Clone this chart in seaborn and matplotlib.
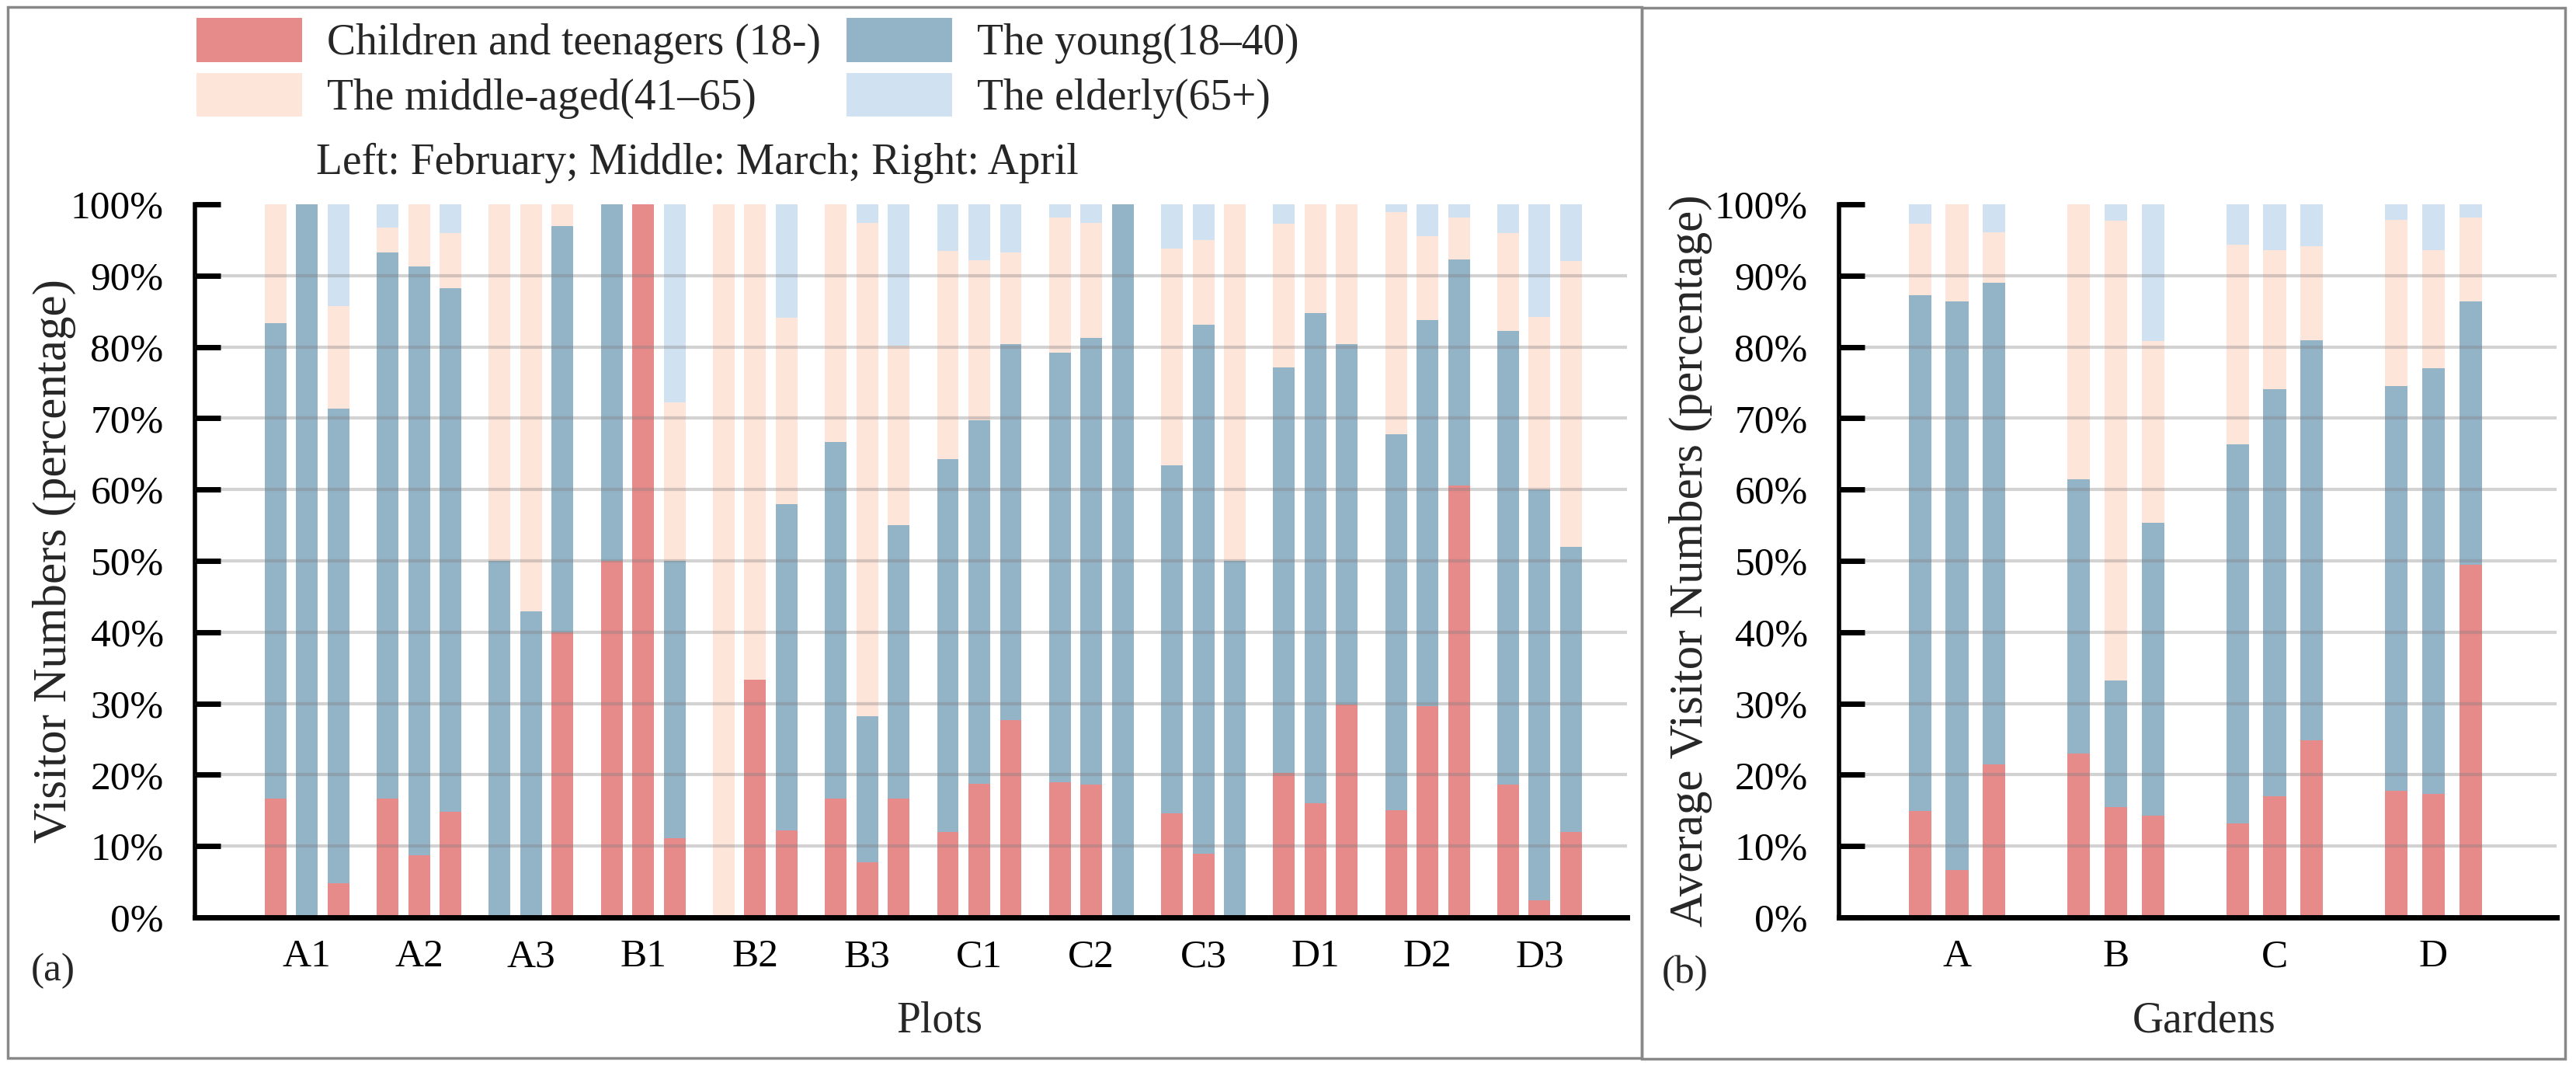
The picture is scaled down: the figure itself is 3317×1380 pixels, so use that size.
import pandas as pd
import matplotlib
matplotlib.use("Agg")
import matplotlib.pyplot as plt
from matplotlib.patches import Rectangle, Patch
import seaborn as sns

# Categories
plots = ["A1", "A2", "A3", "B1", "B2", "B3", "C1", "C2", "C3", "D1", "D2", "D3"]
gardens = ["A", "B", "C", "D"]
months = ["February", "March", "April"]

# Shares (%) per plot, one value per month (Feb, Mar, Apr)
children_plots = [[16.7, 0, 4.8], [16.7, 8.7, 14.8], [0, 0, 40.0], [50.0, 100, 11.1],
                  [0, 33.3, 12.2], [16.7, 7.7, 16.7], [12.0, 18.7, 27.7], [18.9, 18.6, 0],
                  [14.6, 8.9, 0], [20.3, 16.0, 29.9], [15.0, 29.6, 60.6], [18.6, 2.4, 12.0]]
young_plots = [[66.6, 100, 66.6], [76.6, 82.6, 73.4], [50.0, 42.9, 56.9], [50.0, 0, 38.9],
               [0, 0, 45.8], [50.0, 20.5, 38.3], [52.3, 51.0, 52.7], [60.3, 62.7, 100],
               [48.8, 74.2, 50.0], [56.8, 68.7, 50.5], [52.8, 54.2, 31.7], [63.6, 57.6, 40.0]]
middle_plots = [[16.7, 0, 14.3], [3.4, 8.7, 7.8], [50.0, 57.1, 3.1], [0, 0, 22.2],
                [100, 66.7, 26.1], [33.3, 69.2, 25.2], [29.2, 22.5, 12.9], [19.0, 16.1, 0],
                [30.4, 11.9, 50.0], [20.2, 15.3, 19.6], [31.1, 11.7, 5.9], [13.8, 24.2, 40.0]]
elderly_plots = [[0, 0, 14.3], [3.3, 0, 4.0], [0, 0, 0], [0, 0, 27.8],
                 [0, 0, 15.9], [0, 2.6, 19.8], [6.5, 7.8, 6.7], [1.8, 2.6, 0],
                 [6.2, 5.0, 0], [2.7, 0, 0], [1.1, 4.5, 1.8], [4.0, 15.8, 8.0]]

# Average shares (%) per garden
children_gardens = [[14.9, 6.6, 21.5], [23.0, 15.5, 14.3], [13.2, 17.0, 24.8], [17.8, 17.3, 49.5]]
young_gardens = [[72.4, 79.8, 67.5], [38.4, 17.7, 41.0], [53.1, 57.1, 56.1], [56.7, 59.7, 36.9]]
middle_gardens = [[10.0, 13.6, 7.1], [38.6, 64.5, 25.5], [28.0, 19.5, 13.2], [23.3, 16.6, 11.8]]
elderly_gardens = [[2.7, 0, 3.9], [0, 2.3, 19.2], [5.7, 6.4, 5.9], [2.2, 6.4, 1.8]]

C_CHILD = "#E68A8A"
C_YOUNG = "#93B3C6"
C_MID = "#FEE5DA"
C_OLD = "#D0E1F1"

W, H = 3317, 1380
FONT = ["Liberation Serif", "DejaVu Serif"]

sns.set_theme(style="white")
plt.rcParams["font.family"] = FONT


def stack_frame(cats, c, y, m, e):
    rows = []
    for i, cat in enumerate(cats):
        for j, mon in enumerate(months):
            t1 = c[i][j]
            t2 = t1 + y[i][j]
            t3 = t2 + m[i][j]
            t4 = t3 + e[i][j]
            rows.append({"cat": cat, "month": mon, "c": t1, "y": t2, "m": t3, "e": t4})
    return pd.DataFrame(rows)


def draw_panel(ax, cats, df, width, gap, xlim):
    # draw cumulative layers from the top down so each one covers the next
    for col, color in [("e", C_OLD), ("m", C_MID), ("y", C_YOUNG), ("c", C_CHILD)]:
        sns.barplot(data=df, x="cat", y=col, hue="month", order=cats, hue_order=months,
                    palette=[color] * 3, width=width, gap=gap, saturation=1,
                    errorbar=None, legend=False, linewidth=0, ax=ax)
    ax.set_xlim(*xlim)
    ax.set_ylim(0, 100)
    ax.set_yticks(range(0, 101, 10))
    ax.set_yticklabels([f"{v}%" for v in range(0, 101, 10)])
    ax.yaxis.grid(True, color="#7f7f7f", alpha=0.35, linewidth=3)
    ax.xaxis.grid(False)
    ax.yaxis.get_gridlines()[-1].set_visible(False)
    ax.yaxis.get_gridlines()[0].set_visible(False)
    ax.set_axisbelow(False)
    for s in ["top", "right"]:
        ax.spines[s].set_visible(False)
    ax.spines["left"].set_linewidth(4)
    ax.spines["bottom"].set_linewidth(5)
    ax.spines["left"].set_color("black")
    ax.spines["bottom"].set_color("black")
    ax.tick_params(axis="y", direction="in", left=True, length=24, width=5,
                   labelsize=37, pad=29, colors="black")
    ax.tick_params(axis="x", length=0, labelsize=37, pad=20, colors="black")


fig = plt.figure(figsize=(W / 100, H / 100), dpi=100)
ax_a = fig.add_axes([251 / W, 1 - 1181 / H, (2095 - 251) / W, (1181 - 263) / H])
ax_b = fig.add_axes([2368 / W, 1 - 1181 / H, (3292 - 2368) / W, (1181 - 263) / H])

df_a = stack_frame(plots, children_plots, young_plots, middle_plots, elderly_plots)
df_b = stack_frame(gardens, children_gardens, young_gardens, middle_gardens, elderly_gardens)

draw_panel(ax_a, plots, df_a, width=0.842, gap=0.31, xlim=(-1.0, 11.78))
draw_panel(ax_b, gardens, df_b, width=0.70, gap=0.39, xlim=(-0.743, 3.775))

ax_a.set_xlabel("Plots", fontsize=40)
ax_a.xaxis.set_label_coords((1210 - 251) / 1844, -0.117)
ax_a.set_ylabel("Visitor Numbers (percentage)", fontsize=44)
ax_a.yaxis.set_label_coords(-0.083, 0.5)

ax_b.set_xlabel("Gardens", fontsize=40)
ax_b.xaxis.set_label_coords((2838 - 2368) / 924, -0.117)
ax_b.set_ylabel("Average Visitor Numbers (percentage)", fontsize=44)
ax_b.yaxis.set_label_coords(-0.176, 0.5)

fig.text(68 / W, 1 - 1250 / H, "(a)", fontsize=37, ha="center", va="center")
fig.text(2170 / W, 1 - 1253 / H, "(b)", fontsize=37, ha="center", va="center")

# legend
handles = [Patch(facecolor=C_CHILD, edgecolor="none"), Patch(facecolor=C_MID, edgecolor="none"),
           Patch(facecolor=C_YOUNG, edgecolor="none"), Patch(facecolor=C_OLD, edgecolor="none")]
labels = ["Children and teenagers (18-)", "The middle-aged(41\u201365)",
          "The young(18\u201340)", "The elderly(65+)"]
fig.legend(handles, labels, loc="upper left", bbox_to_anchor=(253 / W, 1 - 23 / H), ncol=2,
           frameon=False, fontsize=40, handlelength=2.45, handleheight=1.2,
           handletextpad=0.58, columnspacing=0.58, labelspacing=0.2,
           borderpad=0, borderaxespad=0)
fig.text(407 / W, 1 - 210 / H, "Left: February; Middle: March; Right: April",
         fontsize=40, ha="left", va="center")

# panel frames
fig.add_artist(Rectangle((10 / W, 1 - 1362 / H), (2114 - 10) / W, (1362 - 9) / H,
                         transform=fig.transFigure, fill=False, edgecolor="#888888", linewidth=2.5))
fig.add_artist(Rectangle((2114 / W, 1 - 1363 / H), (3303 - 2114) / W, (1363 - 10) / H,
                         transform=fig.transFigure, fill=False, edgecolor="#888888", linewidth=2.5))

fig.savefig("out.png", dpi=100)
